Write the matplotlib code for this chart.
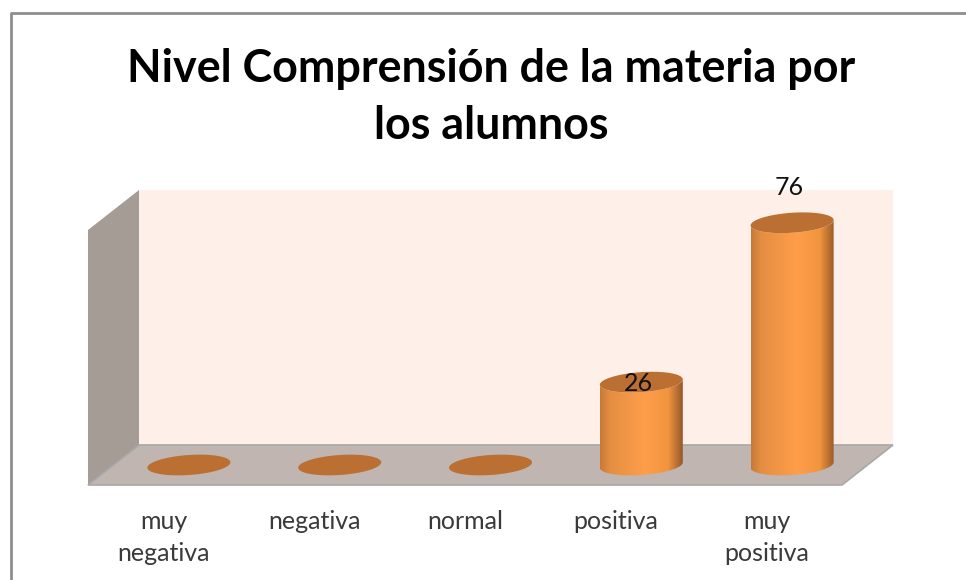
import numpy as np
import matplotlib
matplotlib.use("Agg")
import matplotlib.pyplot as plt
from matplotlib.patches import Polygon
from matplotlib.lines import Line2D
from matplotlib.colors import LinearSegmentedColormap

categories = ["muy\nnegativa", "negativa", "normal", "positiva", "muy\npositiva"]
values = [0, 0, 0, 26, 76]
shown_labels = ["", "", "", "26", "76"]
title = "Nivel Comprensión de la materia por\nlos alumnos"

W, H = 966, 580
plt.rcParams['font.family'] = ['Lato', 'DejaVu Sans']
fig = plt.figure(figsize=(W/100, H/100), dpi=100, facecolor='white')

# front plane of the 3D box, in pixels
L, R, T, B = 88, 842, 230, 485
ax = fig.add_axes([L/W, 1-B/H, (R-L)/W, (B-T)/H])
ax.set_xlim(-0.5, 4.5)
ax.set_ylim(0, 80)
ax.patch.set_visible(False)
for s in ax.spines.values():
    s.set_visible(False)
ax.set_yticks([])
ax.set_xticks(range(5), categories)
ax.tick_params(axis='x', length=0, pad=18, labelsize=18, labelcolor='#3a3a3a')
for t in ax.get_xticklabels():
    t.set_linespacing(1.45)

px = 5/(R-L)          # data x per pixel
py = 80/(B-T)         # data y per pixel
dx, dy = 51*px, 40*py  # box depth
cx, cy = dx/2, dy/2    # bars stand mid-depth
x0, x1 = -0.5, 4.5

# back wall, side wall, floor
ax.add_patch(Polygon([(x0+dx, dy), (x1+dx, dy), (x1+dx, 80+dy), (x0+dx, 80+dy)],
                     fc='#FEF0E9', ec='none', clip_on=False, zorder=1))
ax.add_patch(Polygon([(x0, 0), (x0+dx, dy), (x0+dx, 80+dy), (x0, 80)],
                     fc='#A59C96', ec='none', clip_on=False, zorder=2))
ax.add_patch(Polygon([(x0, 0), (x0+dx, dy), (x1+dx, dy), (x1, 0)],
                     fc='#C0B5B1', ec='#A8A8A8', lw=1.2, clip_on=False, zorder=2))

cmap = LinearSegmentedColormap.from_list(
    'cyl', [(0, '#C67A38'), (0.12, '#E48E42'), (0.55, '#FF9E4A'),
            (0.82, '#F2953F'), (0.94, '#B56C30'), (1, '#95572A')])
grad = np.linspace(0, 1, 256).reshape(1, -1)

a = 41.5*px   # ellipse half width
b = 10*py     # ellipse half height
s = 2.7*py    # tilt of the ellipse
t = np.linspace(0, 2*np.pi, 181)

for i, v in enumerate(values):
    xc = i + cx
    ex = xc + a*np.cos(t)
    ey = b*np.sin(t) + s*np.cos(t)
    if v > 0:
        low = t[(t >= np.pi) & (t <= 2*np.pi)]
        upp = low[::-1]
        body = np.r_[np.c_[xc + a*np.cos(low), cy + b*np.sin(low) + s*np.cos(low)],
                     np.c_[xc + a*np.cos(upp), cy + v + b*np.sin(upp) + s*np.cos(upp)]]
        clip = Polygon(body, transform=ax.transData)
        im = ax.imshow(grad, cmap=cmap, aspect='auto', zorder=3,
                       extent=(xc-a, xc+a, cy-2*b, cy+v+2*b))
        im.set_clip_path(clip)
        im.set_clip_box(fig.bbox)
    ax.add_patch(Polygon(np.c_[ex, cy + v + ey], fc='#BC6F32', ec='none',
                         clip_on=False, zorder=4))
    if shown_labels[i]:
        ty = cy + v - 1*py
        if v > 50:
            ty += 11.5
        ax.text(xc - 3*px, ty, shown_labels[i], ha='center', va='center',
                fontsize=18, color='#111111', zorder=5, clip_on=False)

ax.set_xlim(-0.5, 4.5)
ax.set_ylim(0, 80)

# chart frame
fig.add_artist(Line2D([11/W, 11/W, 1], [0, 1-12.5/H, 1-12.5/H], color='#8E8E8E', lw=2.0))
fig.text(491/W, 1-97.5/H, title, ha='center', va='center', fontsize=32.3, fontweight='bold',
         color='black', linespacing=1.45)

fig.savefig('out.png', dpi=100)
